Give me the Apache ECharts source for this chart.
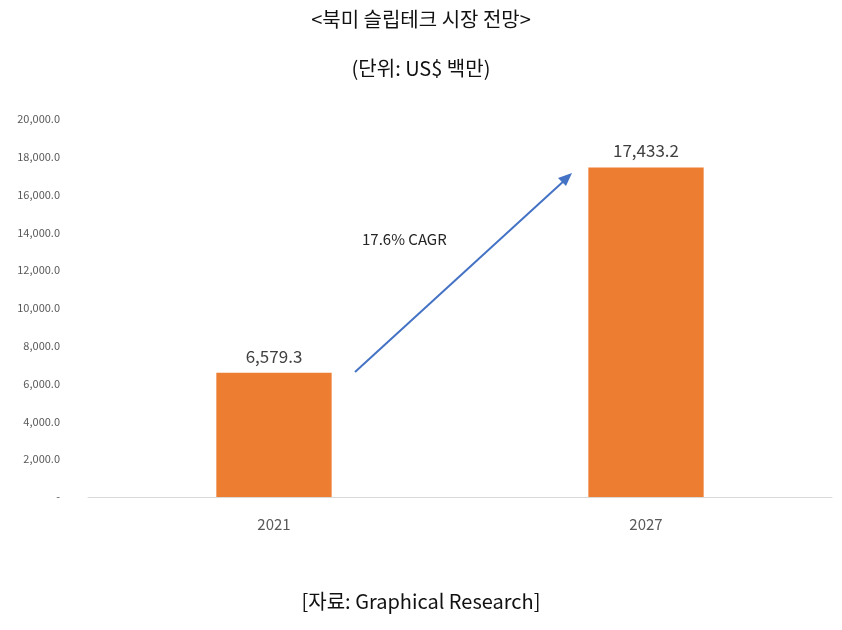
<!DOCTYPE html>
<html><head><meta charset="utf-8">
<script src="https://cdn.jsdelivr.net/npm/echarts@6/dist/echarts.min.js"></script>
<style>html,body{margin:0;padding:0;background:#fff}#c{width:842px;height:630px}</style>
</head><body><div id="c"></div>
<script>
const categories = ['2021', '2027'];
const values = [6579.3, 17433.2];
const chart = echarts.init(document.getElementById('c'));
const font = '"Noto Sans CJK KR", Roboto, sans-serif';
chart.setOption({
  animation: false,
  title: [
    {text: '<북미 슬립테크 시장 전망>', left: 'center', top: 4, textStyle: {fontFamily: font, fontSize: 20, fontWeight: 'normal', color: '#111'}},
    {text: '(단위: US$ 백만)', left: 'center', top: 53, textStyle: {fontFamily: font, fontSize: 20, fontWeight: 'normal', color: '#111'}},
    {text: '[자료: Graphical Research]', left: 'center', top: 586, textStyle: {fontFamily: font, fontSize: 20, fontWeight: 'normal', color: '#111'}}
  ],
  grid: {left: 88, right: 10, top: 119, bottom: 133, containLabel: false},
  xAxis: {type: 'category', data: categories,
    axisLine: {lineStyle: {color: '#d9d9d9'}}, axisTick: {show: false},
    axisLabel: {color: '#595959', fontSize: 15, margin: 20, fontFamily: font}},
  yAxis: {type: 'value', min: 0, max: 20000, interval: 2000,
    splitLine: {show: false}, axisLine: {show: false}, axisTick: {show: false},
    axisLabel: {color: '#595959', fontSize: 11, margin: 28, fontFamily: font,
      formatter: v => v === 0 ? '-' : v.toLocaleString('en-US', {minimumFractionDigits: 1})}},
  series: [{type: 'bar', data: values, barWidth: '31%', itemStyle: {color: '#ED7D31'},
    label: {show: true, position: 'top', distance: 8, color: '#404040', fontSize: 17, fontFamily: font,
      formatter: p => p.value.toLocaleString('en-US', {minimumFractionDigits: 1})}}],
  graphic: [
    {type: 'line', shape: {x1: 355, y1: 372, x2: 566, y2: 179}, style: {stroke: '#4472C4', lineWidth: 2}},
    {type: 'polygon', shape: {points: [[572, 173], [558, 178], [566, 186]]}, style: {fill: '#4472C4'}},
    {type: 'text', left: 362, top: 232, style: {text: '17.6% CAGR', fontSize: 15, fontFamily: font, fill: '#262626'}}
  ]
});
</script></body></html>
